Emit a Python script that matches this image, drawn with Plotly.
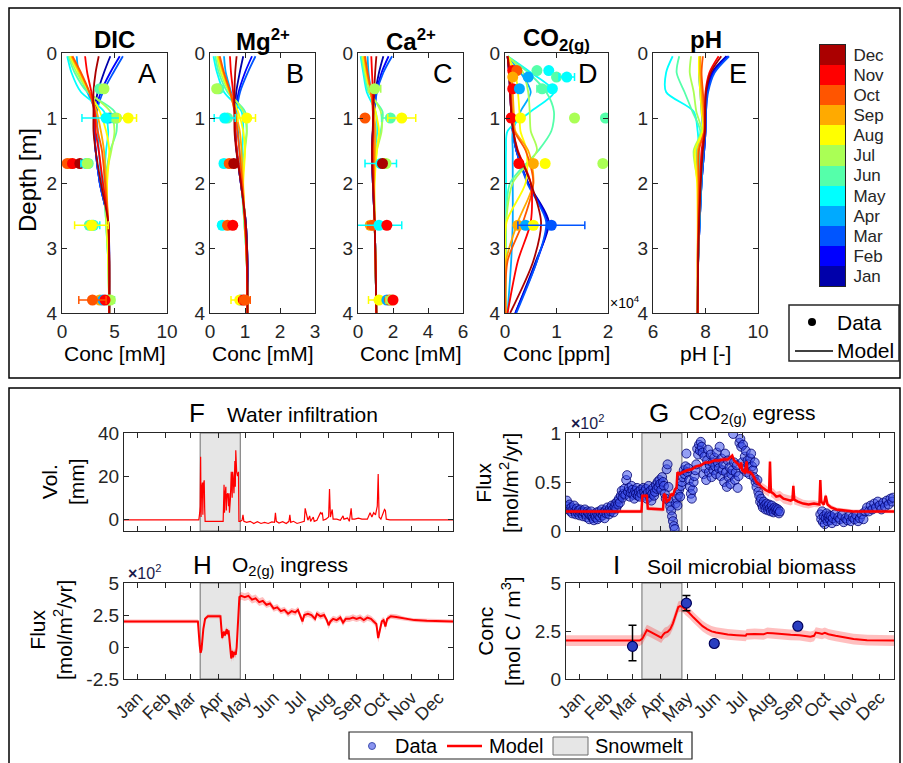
import plotly.graph_objects as go

W, H = 903, 763
FONT = "Liberation Sans, Arial, sans-serif"
INK = "#262626"

MONTHS = ["Jan", "Feb", "Mar", "Apr", "May", "Jun", "Jul", "Aug", "Sep", "Oct", "Nov", "Dec"]
JET12 = ["#0000AA", "#0000FF", "#0055FF", "#00AAFF", "#00FFFF", "#55FFAA",
         "#AAFF55", "#FFFF00", "#FFAA00", "#FF5500", "#FF0000", "#AA0000"]
MONTH_MID = [15, 46, 74, 105, 135, 166, 196, 227, 258, 288, 319, 349]
SNOW = [84.5, 129]

# ---------------- depth profiles (top row) ----------------
DEPTHS = [0.05, 0.3, 0.6, 0.9, 1.2, 1.5, 2.0, 2.6, 3.2, 4.0]

DIC_MODEL = [
    [4.6, 4.0, 3.4, 3.1, 3.1, 3.2, 3.6, 4.4, 4.5, 4.5],
    [5.5, 4.6, 3.7, 3.2, 3.1, 3.2, 3.6, 4.4, 4.5, 4.5],
    [5.8, 4.9, 3.9, 3.3, 3.1, 3.2, 3.6, 4.4, 4.5, 4.5],
    [1.4, 1.6, 2.4, 3.2, 3.4, 3.5, 3.8, 4.3, 4.5, 4.5],
    [0.5, 0.9, 1.8, 4.0, 4.4, 4.2, 4.0, 4.2, 4.4, 4.5],
    [0.6, 1.2, 2.4, 5.0, 5.2, 4.6, 4.1, 4.2, 4.4, 4.5],
    [0.7, 1.4, 2.6, 4.6, 5.0, 4.7, 4.1, 4.2, 4.4, 4.5],
    [0.8, 1.6, 2.6, 3.6, 4.2, 4.5, 4.3, 4.3, 4.4, 4.5],
    [0.9, 1.7, 2.6, 3.3, 3.7, 4.0, 4.2, 4.4, 4.5, 4.5],
    [1.0, 1.8, 2.6, 3.1, 3.4, 3.8, 4.1, 4.4, 4.5, 4.5],
    [2.2, 2.4, 2.8, 3.1, 3.2, 3.5, 3.9, 4.4, 4.5, 4.5],
    [3.5, 3.2, 3.0, 3.0, 3.0, 3.2, 3.7, 4.4, 4.5, 4.5],
]
MG_MODEL = [
    [0.95, 0.85, 0.75, 0.72, 0.72, 0.76, 0.88, 1.02, 1.07, 1.07],
    [1.2, 1.0, 0.82, 0.74, 0.72, 0.76, 0.88, 1.02, 1.07, 1.07],
    [1.3, 1.08, 0.86, 0.76, 0.73, 0.76, 0.88, 1.02, 1.07, 1.07],
    [0.4, 0.45, 0.6, 0.75, 0.8, 0.84, 0.9, 1.0, 1.05, 1.07],
    [0.1, 0.2, 0.4, 0.9, 0.95, 0.92, 0.9, 0.98, 1.05, 1.07],
    [0.15, 0.25, 0.5, 1.0, 1.05, 0.98, 0.92, 0.98, 1.05, 1.07],
    [0.2, 0.3, 0.55, 0.95, 1.05, 1.0, 0.93, 0.98, 1.05, 1.07],
    [0.22, 0.35, 0.55, 0.8, 0.95, 1.0, 0.95, 1.0, 1.05, 1.07],
    [0.25, 0.38, 0.56, 0.72, 0.85, 0.9, 0.94, 1.0, 1.05, 1.07],
    [0.28, 0.4, 0.58, 0.7, 0.78, 0.84, 0.92, 1.0, 1.05, 1.07],
    [0.57, 0.6, 0.66, 0.7, 0.72, 0.77, 0.89, 1.0, 1.05, 1.07],
    [0.76, 0.72, 0.7, 0.7, 0.7, 0.75, 0.88, 1.02, 1.07, 1.07],
]
CA_MODEL = [
    [1.45, 1.2, 1.0, 0.92, 0.85, 0.8, 0.85, 0.95, 1.0, 1.05],
    [1.75, 1.35, 1.05, 0.93, 0.85, 0.8, 0.85, 0.95, 1.0, 1.05],
    [1.95, 1.45, 1.08, 0.94, 0.86, 0.8, 0.85, 0.95, 1.0, 1.05],
    [0.55, 0.6, 0.75, 0.9, 0.9, 0.86, 0.88, 0.95, 1.0, 1.05],
    [0.15, 0.3, 0.5, 1.0, 1.1, 0.97, 0.9, 0.95, 1.0, 1.05],
    [0.2, 0.35, 0.6, 1.4, 1.3, 1.02, 0.92, 0.95, 1.0, 1.05],
    [0.25, 0.4, 0.7, 1.3, 1.35, 1.08, 0.93, 0.95, 1.0, 1.05],
    [0.3, 0.45, 0.7, 1.0, 1.2, 1.08, 0.95, 0.95, 1.0, 1.05],
    [0.35, 0.5, 0.72, 0.9, 1.0, 0.97, 0.92, 0.95, 1.0, 1.05],
    [0.4, 0.55, 0.75, 0.85, 0.9, 0.89, 0.9, 0.95, 1.0, 1.05],
    [0.76, 0.8, 0.85, 0.85, 0.85, 0.82, 0.86, 0.95, 1.0, 1.05],
    [1.05, 0.98, 0.92, 0.88, 0.84, 0.8, 0.85, 0.95, 1.0, 1.05],
]
CO2_MODEL = [
    [0.05, 0.08, 0.1, 0.12, 0.15, 0.22, 0.45, 0.85, 0.6, 0.2],
    [0.05, 0.08, 0.1, 0.12, 0.15, 0.22, 0.45, 0.82, 0.62, 0.2],
    [0.05, 0.08, 0.1, 0.12, 0.15, 0.22, 0.43, 0.8, 0.62, 0.22],
    [0.05, 0.3, 0.5, 0.3, 0.15, 0.15, 0.15, 0.15, 0.12, 0.05],
    [0.05, 0.5, 0.95, 0.5, 0.05, 0.02, 0.02, 0.02, 0.02, 0.02],
    [0.05, 0.45, 0.8, 0.95, 0.9, 0.65, 0.1, 0.02, 0.01, 0.01],
    [0.05, 0.35, 0.45, 0.48, 0.5, 0.62, 0.15, 0.02, 0.01, 0.01],
    [0.05, 0.2, 0.25, 0.28, 0.3, 0.42, 0.4, 0.03, 0.01, 0.01],
    [0.05, 0.12, 0.15, 0.17, 0.2, 0.45, 0.55, 0.25, 0.02, 0.01],
    [0.05, 0.1, 0.12, 0.14, 0.18, 0.4, 0.55, 0.35, 0.05, 0.01],
    [0.05, 0.08, 0.1, 0.12, 0.16, 0.25, 0.5, 0.5, 0.25, 0.05],
    [0.05, 0.08, 0.1, 0.12, 0.16, 0.24, 0.5, 0.7, 0.55, 0.1],
]
PH_MODEL = [
    [8.8, 8.25, 8.05, 8.0, 8.0, 7.95, 7.85, 7.78, 7.72, 7.7],
    [8.85, 8.3, 8.07, 8.02, 8.0, 7.95, 7.85, 7.78, 7.72, 7.7],
    [8.9, 8.35, 8.1, 8.02, 8.0, 7.95, 7.85, 7.78, 7.72, 7.7],
    [7.8, 7.75, 7.8, 7.85, 7.9, 7.9, 7.85, 7.78, 7.72, 7.7],
    [6.75, 6.5, 6.5, 7.55, 7.7, 7.75, 7.8, 7.76, 7.72, 7.7],
    [7.0, 6.9, 7.2, 7.5, 7.8, 7.65, 7.75, 7.75, 7.72, 7.7],
    [7.45, 7.4, 7.55, 7.65, 7.85, 7.55, 7.7, 7.72, 7.72, 7.7],
    [7.75, 7.75, 7.8, 7.85, 7.9, 7.6, 7.68, 7.7, 7.7, 7.7],
    [7.8, 7.8, 7.85, 7.9, 7.95, 7.7, 7.72, 7.72, 7.7, 7.7],
    [7.9, 7.85, 7.9, 7.95, 7.95, 7.75, 7.75, 7.72, 7.7, 7.7],
    [8.5, 8.15, 8.0, 7.98, 7.97, 7.85, 7.8, 7.75, 7.72, 7.7],
    [8.6, 8.2, 8.02, 7.99, 7.98, 7.9, 7.82, 7.76, 7.72, 7.7],
]

# measured points: month number (1-12), depth [m], value, horizontal error
DIC_PT_MONTH = [6, 7, 4, 6, 7, 5, 8, 9, 10, 11, 12, 5, 6, 7, 6, 5, 7, 8, 9, 4, 6, 7, 11, 10]
DIC_PT_DEPTH = [0.55, 0.55, 1.0, 1.0, 1.0, 1.0, 1.0, 1.7, 1.7, 1.7, 1.7, 1.7, 1.7, 1.7,
                2.65, 2.65, 2.65, 2.65, 3.8, 3.8, 3.8, 3.8, 3.8, 3.8]
DIC_PT_VAL = [3.6, 4.0, 4.5, 5.0, 5.2, 4.2, 6.3, 0.8, 0.5, 1.0, 1.7, 2.3, 2.5, 2.4,
              2.6, 3.0, 2.9, 2.8, 3.6, 3.9, 4.4, 4.6, 4.1, 2.9]
DIC_PT_ERR = [0, 0, 0, 0, 0, 2.3, 0.8, 0, 0, 0, 0, 0.5, 0, 0,
              0, 0.6, 0, 1.6, 0, 0, 0.6, 0, 0, 1.3]

MG_PT_MONTH = [6, 7, 6, 5, 8, 5, 10, 12, 5, 10, 11, 4, 8, 11, 10]
MG_PT_DEPTH = [0.55, 0.55, 1.0, 1.0, 1.0, 1.7, 1.7, 1.7, 2.65, 2.65, 2.65, 3.8, 3.8, 3.8, 3.8]
MG_PT_VAL = [0.25, 0.19, 0.5, 0.42, 1.05, 0.4, 0.55, 0.68, 0.35, 0.5, 0.65, 0.88, 0.85, 0.95, 1.0]
MG_PT_ERR = [0, 0, 0, 0.3, 0.25, 0.1, 0, 0, 0.1, 0, 0, 0, 0.25, 0, 0.15]

CA_PT_MONTH = [7, 10, 6, 8, 5, 9, 7, 12, 9, 10, 5, 11, 8, 4, 10, 7, 11]
CA_PT_DEPTH = [0.55, 1.0, 1.0, 1.0, 1.7, 1.7, 1.7, 1.7, 2.65, 2.65, 2.65, 2.65,
               3.8, 3.8, 3.8, 3.8, 3.8]
CA_PT_VAL = [0.95, 0.4, 1.85, 2.5, 1.3, 1.5, 1.6, 1.4, 0.7, 0.85, 1.2, 1.65, 1.2, 1.65, 1.8, 1.9, 2.0]
CA_PT_ERR = [0.35, 0, 0.5, 0.8, 0.9, 0, 0, 0, 0, 0.3, 1.3, 0, 0.6, 0, 0, 0.3, 0]

CO2_PT_MONTH = [11, 10, 6, 5, 9, 4, 6, 5, 11, 4, 6, 5, 11, 8, 7, 6, 11, 9, 8, 7, 9, 4, 8, 3]
CO2_PT_DEPTH = [0.27, 0.27, 0.27, 0.27, 0.37, 0.37, 0.37, 0.37, 0.55, 0.55, 0.55, 0.55,
                1.0, 1.0, 1.0, 1.0, 1.7, 1.7, 1.7, 1.7, 2.65, 2.65, 2.65, 2.65]
CO2_PT_VAL = [0.15, 0.23, 0.62, 0.85, 0.15, 0.45, 1.0, 1.2, 0.15, 0.28, 0.72, 0.92,
              0.12, 0.3, 1.35, 1.95, 0.27, 0.55, 0.78, 1.9, 0.25, 0.4, 0.55, 0.9]
CO2_PT_ERR = [0, 0, 0, 0, 0, 0, 0, 0.15, 0, 0, 0.1, 0, 0, 0, 0, 0, 0, 0, 0, 0, 0, 0, 0, 0.65]

# ---------------- time series (bottom) ----------------
# F: water infiltration (day of year, mm)
INFIL = [
    (0, -0.3), (83, -0.3), (84, 3), (84.5, 6), (85, 29), (85.5, 1), (86, 14), (87, 17),
    (87.5, 2), (88, 16), (89, 18), (89.5, 5), (90, -1), (100, -1), (110, -1), (111, 16),
    (111.5, 3), (112, 11), (113, 15), (113.5, 4), (114, 11), (115, 12), (116, 6),
    (116.5, 12), (117, 3), (118, 9), (118.5, 21), (119, 22), (120, 10), (120.5, 22),
    (121, 20), (122, 12), (123, 27), (123.5, 15), (124, 32), (125, 22), (126, 20),
    (127, 22), (127.5, -1), (129, -1), (131, -0.5), (132, 2), (133, -1), (136, -1.5),
    (140, -1), (144, -2), (148, -1.2), (152, -2), (156, -1.5), (160, -2), (164, -1.3),
    (167, -1.5), (168, 3), (169, -1), (172, -1.8), (176, -1.2), (180, -2), (183, -1),
    (184, 2), (185, -1.5), (188, -1), (192, -2), (196, -1.5), (200, -1), (201, 5),
    (202, 3), (203, 2.5), (204, -0.5), (206, 1.5), (207, -1), (210, 1), (211, -1),
    (214, -0.5), (218, 3), (219, 2.5), (220, 3), (221, -0.5), (224, 0), (227, 1),
    (228, 14), (229, 1), (230, 3), (231, 4.5), (232, 0), (236, 0), (240, -0.5),
    (243, 1.5), (244, 0), (248, 0.5), (250, -1), (251, 3), (252, 5), (253, 0), (256, 0),
    (260, 0.5), (264, 0), (270, 0), (273, 3), (275, 1), (277, 3), (279, 2), (281, 6),
    (282, 21), (283, 1), (285, 0), (288, 3), (289, 4.5), (290, 4), (291, 0),
    (295, -0.3), (365, -0.3),
]

# G: CO2 egress observations (day, x10^2 mol/m2/yr)
G_OBS = [
    (1, 0.31), (2, 0.25), (3, 0.22), (4, 0.27), (5, 0.2), (6, 0.24), (7, 0.18), (8, 0.22),
    (9, 0.26), (10, 0.2), (11, 0.17), (12, 0.23), (13, 0.19), (14, 0.21), (15, 0.16),
    (16, 0.22), (17, 0.18), (18, 0.2), (19, 0.15), (20, 0.19), (21, 0.22), (22, 0.17),
    (23, 0.14), (24, 0.2), (25, 0.18), (26, 0.12), (27, 0.16), (28, 0.2), (29, 0.15),
    (30, 0.13), (31, 0.11), (32, 0.17), (33, 0.14), (34, 0.19), (35, 0.12), (36, 0.16),
    (37, 0.2), (38, 0.14), (39, 0.18), (40, 0.22), (41, 0.16), (42, 0.19), (43, 0.13),
    (44, 0.21), (45, 0.18), (46, 0.24), (47, 0.2), (48, 0.17), (49, 0.23), (50, 0.2),
    (51, 0.26), (52, 0.22), (53, 0.19), (54, 0.25), (55, 0.28), (56, 0.23), (57, 0.3),
    (58, 0.27), (59, 0.33), (60, 0.29), (61, 0.36), (62, 0.41), (63, 0.34), (64, 0.38),
    (65, 0.43), (66, 0.37), (67, 0.52), (68, 0.57), (69, 0.4), (70, 0.44), (71, 0.35),
    (72, 0.39), (73, 0.46), (74, 0.42), (75, 0.37), (76, 0.33), (77, 0.41), (78, 0.38),
    (79, 0.44), (80, 0.36), (81, 0.4), (82, 0.35), (83, 0.42), (84, 0.38), (86, 0.44),
    (87, 0.4), (88, 0.36), (89, 0.43), (90, 0.33), (91, 0.39), (92, 0.46), (93, 0.35),
    (94, 0.41), (95, 0.31), (96, 0.38), (97, 0.44), (98, 0.36), (99, 0.4), (100, 0.47),
    (101, 0.43), (102, 0.5), (103, 0.45), (104, 0.52), (105, 0.48), (106, 0.42),
    (107, 0.55), (108, 0.5), (109, 0.46), (110, 0.38), (111, 0.33), (112, 0.63),
    (113, 0.68), (114, 0.45), (115, 0.3), (116, 0.25), (117, 0.21), (118, 0.15),
    (119, 0.1), (120, 0.05), (121, 0.02), (122, 0.28), (123, 0.33), (124, 0.26),
    (125, 0.37), (126, 0.42), (127, 0.35), (128, 0.46), (129, 0.5), (130, 0.55),
    (131, 0.62), (132, 0.58), (133, 0.66), (134, 0.79), (135, 0.6), (136, 0.64),
    (137, 0.52), (138, 0.45), (139, 0.38), (140, 0.33), (141, 0.42), (142, 0.5),
    (143, 0.56), (144, 0.62), (145, 0.68), (146, 0.84), (147, 0.78), (148, 0.88),
    (149, 0.82), (150, 0.91), (151, 0.86), (152, 0.8), (153, 0.58), (154, 0.76),
    (155, 0.64), (156, 0.52), (157, 0.72), (158, 0.83), (159, 0.6), (160, 0.67),
    (161, 0.78), (162, 0.55), (163, 0.7), (164, 0.62), (165, 0.75), (166, 0.66),
    (167, 0.58), (168, 0.8), (169, 0.7), (170, 0.64), (171, 0.86), (172, 0.56),
    (173, 0.74), (174, 0.62), (175, 0.68), (176, 0.5), (177, 0.79), (178, 0.6),
    (179, 0.45), (180, 0.72), (181, 0.55), (182, 0.65), (183, 0.48), (184, 0.58),
    (185, 0.62), (186, 0.99), (187, 0.7), (188, 0.52), (189, 0.6), (190, 0.67),
    (191, 0.44), (192, 0.56), (193, 0.9), (194, 0.94), (195, 0.86), (196, 0.7),
    (197, 0.88), (198, 0.63), (199, 0.76), (200, 0.82), (201, 0.6), (202, 0.72),
    (203, 0.68), (204, 0.58), (205, 0.74), (206, 0.79), (207, 0.66), (208, 0.62),
    (209, 0.55), (210, 0.7), (211, 0.5), (212, 0.45), (213, 0.52), (214, 0.4),
    (215, 0.36), (216, 0.3), (217, 0.33), (218, 0.27), (219, 0.24), (220, 0.3),
    (221, 0.26), (222, 0.22), (223, 0.28), (224, 0.25), (225, 0.21), (226, 0.27),
    (227, 0.23), (228, 0.2), (229, 0.26), (230, 0.22), (231, 0.19), (232, 0.24),
    (233, 0.21), (234, 0.23), (235, 0.2), (236, 0.22), (237, 0.18), (238, 0.2),
    (283, 0.17), (284, 0.12), (285, 0.2), (286, 0.09), (287, 0.15), (288, 0.07),
    (289, 0.13), (290, 0.18), (291, 0.1), (292, 0.14), (293, 0.16), (294, 0.11),
    (295, 0.15), (296, 0.08), (297, 0.13), (299, 0.17), (301, 0.1), (303, 0.14),
    (305, 0.12), (307, 0.16), (309, 0.09), (311, 0.13), (313, 0.11), (315, 0.15),
    (317, 0.1), (319, 0.14), (321, 0.12), (323, 0.16), (325, 0.1), (327, 0.13),
    (329, 0.17), (331, 0.12), (333, 0.2), (335, 0.24), (337, 0.2), (339, 0.26),
    (341, 0.22), (343, 0.28), (345, 0.24), (347, 0.3), (349, 0.26), (351, 0.22),
    (353, 0.29), (355, 0.25), (357, 0.31), (359, 0.27), (361, 0.33), (363, 0.3), (364, 0.34),
]

# G: model (day, value, band half-width)
G_MODEL = [
    (0, 0.2, 0.02), (84, 0.2, 0.02), (85, 0.36, 0.02), (90, 0.36, 0.02), (91, 0.23, 0.02),
    (108, 0.22, 0.02), (109, 0.38, 0.02), (111, 0.36, 0.02), (112, 0.3, 0.02),
    (115, 0.32, 0.02), (117, 0.38, 0.02), (119, 0.36, 0.02), (121, 0.42, 0.02),
    (123, 0.44, 0.02), (124, 0.6, 0.02), (126, 0.58, 0.02), (130, 0.6, 0.02),
    (135, 0.62, 0.02), (140, 0.63, 0.02), (145, 0.66, 0.02), (150, 0.67, 0.02),
    (155, 0.7, 0.02), (160, 0.7, 0.02), (165, 0.72, 0.02), (170, 0.72, 0.02),
    (175, 0.73, 0.025), (180, 0.73, 0.025), (183, 0.75, 0.025), (185, 0.77, 0.025),
    (187, 0.72, 0.025), (189, 0.7, 0.025), (192, 0.68, 0.03), (194, 0.64, 0.03),
    (195, 0.7, 0.03), (196, 0.62, 0.03), (199, 0.6, 0.03), (201, 0.71, 0.03),
    (202, 0.6, 0.03), (205, 0.6, 0.035), (208, 0.57, 0.04), (212, 0.5, 0.04),
    (216, 0.46, 0.045), (219, 0.44, 0.05), (222, 0.42, 0.05), (225, 0.4, 0.05),
    (226, 0.4, 0.05), (227, 0.71, 0.05), (228, 0.4, 0.05), (231, 0.38, 0.05),
    (234, 0.35, 0.05), (238, 0.36, 0.05), (242, 0.33, 0.05), (246, 0.32, 0.05),
    (250, 0.31, 0.05), (252, 0.32, 0.05), (253, 0.46, 0.05), (254, 0.32, 0.05),
    (258, 0.3, 0.045), (264, 0.28, 0.04), (270, 0.27, 0.04), (276, 0.28, 0.035),
    (282, 0.27, 0.03), (283, 0.52, 0.03), (284, 0.3, 0.03), (287, 0.27, 0.03),
    (289, 0.36, 0.03), (291, 0.27, 0.025), (295, 0.24, 0.025), (301, 0.22, 0.02),
    (310, 0.21, 0.02), (320, 0.2, 0.02), (340, 0.2, 0.02), (365, 0.2, 0.02),
]

# H: O2 ingress model (day, value x10^2, band half-width)
H_MODEL = [
    (0, 2.0, 0.15), (82, 2.0, 0.15), (84, 0.1, 0.2), (85, -0.45, 0.3), (86, -0.2, 0.2),
    (88, 1.4, 0.15), (90, 2.2, 0.15), (93, 2.4, 0.15), (100, 2.4, 0.15), (107, 2.4, 0.15),
    (108, 1.5, 0.2), (109, 0.7, 0.2), (111, 1.2, 0.2), (112, 0.9, 0.2), (114, 1.4, 0.2),
    (115, 1.0, 0.2), (116, 1.3, 0.2), (117, 0.6, 0.2), (118, -0.3, 0.25),
    (119, -0.9, 0.3), (120, -0.3, 0.25), (121, -0.8, 0.3), (122, -0.4, 0.25),
    (124, -0.6, 0.25), (125, 0.0, 0.25), (126, 1.5, 0.25), (127, 3.2, 0.3),
    (128, 3.9, 0.3), (130, 4.0, 0.3), (134, 3.9, 0.3), (138, 4.0, 0.3), (142, 3.7, 0.3),
    (146, 3.8, 0.3), (150, 3.5, 0.3), (154, 3.6, 0.3), (158, 3.3, 0.25), (162, 3.4, 0.25),
    (166, 3.0, 0.25), (170, 3.1, 0.25), (174, 2.8, 0.25), (178, 2.9, 0.25),
    (182, 2.6, 0.25), (186, 2.8, 0.25), (190, 2.7, 0.25), (193, 2.9, 0.25),
    (196, 2.4, 0.25), (198, 2.0, 0.3), (200, 2.5, 0.25), (204, 2.6, 0.25),
    (208, 2.5, 0.25), (212, 2.2, 0.25), (214, 2.6, 0.25), (218, 2.4, 0.25),
    (222, 2.5, 0.25), (225, 2.1, 0.25), (227, 1.7, 0.3), (229, 2.0, 0.25),
    (232, 2.2, 0.25), (236, 2.1, 0.25), (240, 2.3, 0.25), (243, 1.9, 0.25),
    (246, 2.2, 0.25), (250, 2.2, 0.25), (254, 2.3, 0.25), (258, 2.2, 0.25),
    (262, 2.3, 0.25), (266, 2.1, 0.25), (270, 2.3, 0.25), (274, 2.2, 0.25),
    (277, 2.0, 0.25), (280, 1.8, 0.25), (282, 0.7, 0.35), (284, 1.3, 0.3),
    (286, 2.0, 0.25), (288, 2.1, 0.25), (290, 1.6, 0.3), (292, 2.2, 0.25),
    (296, 2.4, 0.2), (302, 2.35, 0.2), (312, 2.2, 0.15), (322, 2.1, 0.15),
    (336, 2.05, 0.15), (350, 2.0, 0.15), (365, 2.0, 0.15),
]

# I: soil microbial biomass model (day, value, band half-width)
I_MODEL = [
    (0, 2.0, 0.28), (82, 2.0, 0.28), (85, 2.1, 0.28), (88, 2.4, 0.28), (90, 2.55, 0.28),
    (94, 2.45, 0.28), (98, 2.35, 0.28), (102, 2.25, 0.28), (106, 2.15, 0.28),
    (108, 2.3, 0.28), (110, 2.4, 0.28), (113, 2.45, 0.28), (116, 2.6, 0.28),
    (119, 2.9, 0.28), (122, 3.3, 0.28), (125, 3.75, 0.28), (127, 3.8, 0.28),
    (130, 3.75, 0.28), (133, 3.6, 0.28), (137, 3.45, 0.28), (142, 3.2, 0.28),
    (147, 2.95, 0.28), (152, 2.75, 0.28), (157, 2.6, 0.28), (162, 2.48, 0.28),
    (167, 2.42, 0.28), (172, 2.38, 0.28), (180, 2.32, 0.28), (190, 2.28, 0.28),
    (200, 2.25, 0.28), (201, 2.33, 0.28), (210, 2.35, 0.28), (220, 2.33, 0.28),
    (224, 2.4, 0.28), (230, 2.38, 0.28), (240, 2.33, 0.28), (250, 2.3, 0.28),
    (260, 2.28, 0.28), (268, 2.22, 0.28), (272, 2.2, 0.28), (276, 2.25, 0.28),
    (278, 2.42, 0.28), (282, 2.38, 0.28), (285, 2.35, 0.28), (288, 2.4, 0.28),
    (292, 2.33, 0.28), (300, 2.25, 0.28), (310, 2.15, 0.28), (320, 2.08, 0.28),
    (335, 2.02, 0.28), (350, 2.0, 0.28), (365, 2.0, 0.28),
]
I_OBS_DAY = [74, 134, 165, 258]
I_OBS_VAL = [1.7, 3.95, 1.85, 2.75]
I_OBS_ERR_UP = [1.1, 0.4, 0.12, 0.1]
I_OBS_ERR_DN = [0.75, 0.4, 0.12, 0.1]

# ---------------- figure ----------------
fig = go.Figure()


def px(x):
    return x / W


def py(y):
    return 1 - y / H


def xd(a, b):
    return [a / W, b / W]


def yd(top, bottom):
    return [1 - bottom / H, 1 - top / H]


def ann(x, y, text, size=21, xanchor="center", yanchor="middle", angle=0, color="#000"):
    fig.add_annotation(x=px(x), y=py(y), xref="paper", yref="paper", text=text,
                       showarrow=False, font=dict(size=size, color=color, family=FONT),
                       xanchor=xanchor, yanchor=yanchor, textangle=angle)


AX = dict(showline=True, linecolor=INK, linewidth=1.2, mirror="ticks", ticks="inside",
          ticklen=5, tickcolor=INK, tickwidth=1.2, showgrid=False, zeroline=False,
          tickfont=dict(size=19, color=INK, family=FONT))

TOP_X = [(62, 167), (210, 315), (358, 463), (505, 608), (653, 758)]
TOP_RANGE = [[0, 10], [0, 3], [0, 6], [0, 2], [6, 10]]
TOP_TICKS = [[0, 5, 10], [0, 1, 2, 3], [0, 2, 4, 6], [0, 1, 2], [6, 8, 10]]
MODELS = [DIC_MODEL, MG_MODEL, CA_MODEL, CO2_MODEL, PH_MODEL]
POINTS = [
    (DIC_PT_MONTH, DIC_PT_DEPTH, DIC_PT_VAL, DIC_PT_ERR),
    (MG_PT_MONTH, MG_PT_DEPTH, MG_PT_VAL, MG_PT_ERR),
    (CA_PT_MONTH, CA_PT_DEPTH, CA_PT_VAL, CA_PT_ERR),
    (CO2_PT_MONTH, CO2_PT_DEPTH, CO2_PT_VAL, CO2_PT_ERR),
    None,
]

layout = {}
for i in range(5):
    n = i + 1
    layout[f"xaxis{n}"] = dict(AX, domain=xd(*TOP_X[i]), anchor=f"y{n}", range=TOP_RANGE[i],
                               tickvals=TOP_TICKS[i], ticklabelstandoff=1)
    layout[f"yaxis{n}"] = dict(AX, domain=yd(53, 313), anchor=f"x{n}", range=[4, 0],
                               tickvals=[0, 1, 2, 3, 4], ticklabelstandoff=0)
    for m in range(12):
        fig.add_trace(go.Scatter(x=MODELS[i][m], y=DEPTHS, mode="lines",
                                 line=dict(color=JET12[m], width=1.8, shape="spline", smoothing=0.8),
                                 xaxis=f"x{n}", yaxis=f"y{n}", showlegend=False, hoverinfo="skip"))
    if POINTS[i] is not None:
        months, depths, vals, errs = POINTS[i]
        for mo, d, v, e in zip(months, depths, vals, errs):
            col = JET12[mo - 1]
            fig.add_trace(go.Scatter(
                x=[v], y=[d], mode="markers",
                marker=dict(color=col, size=11, line=dict(width=0)),
                error_x=dict(type="data", array=[e], visible=e > 0, color=col, thickness=1.5, width=4),
                xaxis=f"x{n}", yaxis=f"y{n}", showlegend=False, hoverinfo="skip"))

# colour bar (months)
cs = []
for k, c in enumerate(JET12):
    cs.append([k / 12, c])
    cs.append([(k + 1) / 12, c])
fig.add_trace(go.Heatmap(z=[[k] for k in range(12)], x=[0], y=list(range(12)),
                         colorscale=cs, zmin=-0.5, zmax=11.5, showscale=False,
                         xaxis="x6", yaxis="y6", hoverinfo="skip"))
layout["xaxis6"] = dict(domain=xd(820, 845), anchor="y6", range=[-0.5, 0.5], showticklabels=False,
                        showline=True, linecolor=INK, linewidth=1, mirror=True, ticks="",
                        showgrid=False, zeroline=False)
layout["yaxis6"] = dict(domain=yd(45, 286), anchor="x6", range=[-0.5, 11.5], tickvals=list(range(12)),
                        ticktext=MONTHS, side="right", ticks="", showline=True, linecolor=INK,
                        linewidth=1, mirror=True, showgrid=False, zeroline=False,
                        tickfont=dict(size=17, color=INK, family=FONT), ticklabelstandoff=4)

# ---------------- bottom panels ----------------
BOT = {
    7: dict(x=(124, 453), y=(433, 531), yr=[-5.5, 40], yt=[0, 20, 40], ytt=["0", "20", "40"], lab=False),
    8: dict(x=(566, 894), y=(433, 531), yr=[0, 1], yt=[0, 0.5, 1], ytt=["0", "0.5", "1"], lab=False),
    9: dict(x=(124, 453), y=(583, 679), yr=[-2.5, 5], yt=[-2.5, 0, 2.5, 5], ytt=["-2.5", "0", "2.5", "5"], lab=True),
    10: dict(x=(566, 894), y=(583, 679), yr=[0, 5], yt=[0, 2.5, 5], ytt=["0", "2.5", "5"], lab=True),
}
for n, b in BOT.items():
    layout[f"xaxis{n}"] = dict(AX, domain=xd(*b["x"]), anchor=f"y{n}", range=[0, 365],
                               tickvals=MONTH_MID, ticktext=MONTHS, showticklabels=b["lab"],
                               tickangle=-45, ticklabelstandoff=0,
                               tickfont=dict(size=18, color=INK, family=FONT))
    layout[f"yaxis{n}"] = dict(AX, domain=yd(*b["y"]), anchor=f"x{n}", range=b["yr"],
                               tickvals=b["yt"], ticktext=b["ytt"], ticklabelstandoff=0)
    # snowmelt shading
    lo, hi = b["yr"]
    fig.add_trace(go.Scatter(x=[SNOW[0], SNOW[1], SNOW[1], SNOW[0], SNOW[0]], y=[lo, lo, hi, hi, lo],
                             mode="lines", fill="toself", fillcolor="#e6e6e6",
                             line=dict(color="#6e6e6e", width=1), xaxis=f"x{n}", yaxis=f"y{n}",
                             showlegend=False, hoverinfo="skip"))

# F water infiltration
fig.add_trace(go.Scatter(x=[p[0] for p in INFIL], y=[p[1] for p in INFIL], mode="lines",
                         line=dict(color="#FF0000", width=1.2), xaxis="x7", yaxis="y7",
                         showlegend=False, hoverinfo="skip"))


def band_and_line(series, n, width):
    d = [p[0] for p in series]
    v = [p[1] for p in series]
    e = [p[2] for p in series]
    fig.add_trace(go.Scatter(x=d, y=[a - b for a, b in zip(v, e)], mode="lines", line=dict(width=0),
                             xaxis=f"x{n}", yaxis=f"y{n}", showlegend=False, hoverinfo="skip"))
    fig.add_trace(go.Scatter(x=d, y=[a + b for a, b in zip(v, e)], mode="lines", line=dict(width=0),
                             fill="tonexty", fillcolor="rgba(255,0,0,0.25)",
                             xaxis=f"x{n}", yaxis=f"y{n}", showlegend=False, hoverinfo="skip"))
    fig.add_trace(go.Scatter(x=d, y=v, mode="lines", line=dict(color="#FF0000", width=width),
                             xaxis=f"x{n}", yaxis=f"y{n}", showlegend=False, hoverinfo="skip"))


# G CO2 egress: observations then model
fig.add_trace(go.Scatter(x=[p[0] for p in G_OBS], y=[p[1] for p in G_OBS], mode="markers",
                         marker=dict(color="rgba(60,80,235,0.55)", size=9,
                                     line=dict(color="#00006e", width=0.8)),
                         xaxis="x8", yaxis="y8", showlegend=False, hoverinfo="skip"))
band_and_line(G_MODEL, 8, 2.5)
band_and_line(H_MODEL, 9, 2)
band_and_line(I_MODEL, 10, 2)
fig.add_trace(go.Scatter(x=I_OBS_DAY, y=I_OBS_VAL, mode="markers",
                         marker=dict(color="#2a3ec0", size=10, line=dict(color="#00005a", width=1.2)),
                         error_y=dict(type="data", array=I_OBS_ERR_UP, arrayminus=I_OBS_ERR_DN,
                                      color="#000000", thickness=1.5, width=4),
                         xaxis="x10", yaxis="y10", showlegend=False, hoverinfo="skip"))

# ---------------- texts ----------------
TITLES = ["<b>DIC</b>", "<b>Mg<sup>2+</sup></b>", "<b>Ca<sup>2+</sup></b>",
          "<b>CO<sub>2(g)</sub></b>", "<b>pH</b>"]
LETTERS = ["A", "B", "C", "D", "E"]
XTITLES = ["Conc [mM]", "Conc [mM]", "Conc [mM]", "Conc [ppm]", "pH [-]"]
for i in range(5):
    cx = (TOP_X[i][0] + TOP_X[i][1]) / 2
    ann(cx, 40, TITLES[i], size=24)
    ann(TOP_X[i][1] - 20, 74, LETTERS[i], size=27)
    ann(cx, 353, XTITLES[i], size=21)
ann(28, 180, "Depth [m]", size=24, angle=-90)
ann(625, 302, "×10<sup>4</sup>", size=14)

ann(197, 413, "F", size=26)
ann(302, 414, "Water infiltration", size=21)
ann(659, 413, "G", size=26)
ann(752, 414, "CO<sub>2(g)</sub> egress", size=21)
ann(202, 565, "H", size=26)
ann(290, 566, "O<sub>2(g)</sub> ingress", size=21)
ann(616, 565, "I", size=26)
ann(751, 566, "Soil microbial biomass", size=21)
ann(587, 422, "<b>×</b>10<sup>2</sup>", size=16, color="#1a1a4a")
ann(144, 572, "<b>×</b>10<sup>2</sup>", size=16, color="#1a1a4a")

ann(63, 482, "Vol.<br>[mm]", size=21, angle=-90)
ann(497, 483, "Flux<br>[mol/m<sup>2</sup>/yr]", size=21, angle=-90)
ann(51, 630, "Flux<br>[mol/m<sup>2</sup>/yr]", size=21, angle=-90)
ann(499, 631, "Conc<br>[mol C / m<sup>3</sup>]", size=21, angle=-90)

# legends (drawn as boxes with glyphs and texts)
ann(835, 323, "Data", size=21, xanchor="left")
ann(835, 350, "Model", size=21, xanchor="left")
ann(393, 746, "Data", size=20, xanchor="left")
ann(487, 746, "Model", size=20, xanchor="left")
ann(593, 746, "Snowmelt", size=20, xanchor="left")


def rect(x0, y0, x1, y1, color="#000", width=1.5, fill=None):
    d = dict(type="rect", xref="paper", yref="paper", x0=px(x0), x1=px(x1), y0=py(y1), y1=py(y0),
             line=dict(color=color, width=width))
    if fill:
        d["fillcolor"] = fill
    return d


shapes = [
    rect(9, 8, 900, 378),
    rect(9, 388, 900, 770),
    # top legend
    rect(789, 305, 899, 361, color=INK, width=1.5, fill="white"),
    dict(type="circle", xref="paper", yref="paper", x0=px(808), x1=px(816), y0=py(326), y1=py(318),
         fillcolor="#000", line=dict(color="#000", width=0)),
    dict(type="line", xref="paper", yref="paper", x0=px(795), x1=px(833), y0=py(351), y1=py(351),
         line=dict(color="#000", width=1.5)),
    # bottom legend
    rect(349, 732, 692, 759, color=INK, width=1.2, fill="white"),
    dict(type="circle", xref="paper", yref="paper", x0=px(368.5), x1=px(375.5), y0=py(749.5), y1=py(742.5),
         fillcolor="#8a94f0", line=dict(color="#4050b0", width=1)),
    dict(type="line", xref="paper", yref="paper", x0=px(447), x1=px(482), y0=py(746), y1=py(746),
         line=dict(color="#FF0000", width=2.5)),
    rect(553, 737, 588, 755, color="#6e6e6e", width=1, fill="#e6e6e6"),
]

fig.update_layout(
    width=W, height=H, margin=dict(l=0, r=0, t=0, b=0, autoexpand=False),
    paper_bgcolor="white", plot_bgcolor="white",
    font=dict(family=FONT, color="#000"),
    shapes=shapes, showlegend=False,
    **layout,
)

fig.write_html("out.html", config={"displayModeBar": False},
               post_script="document.body.style.margin='0px';")
